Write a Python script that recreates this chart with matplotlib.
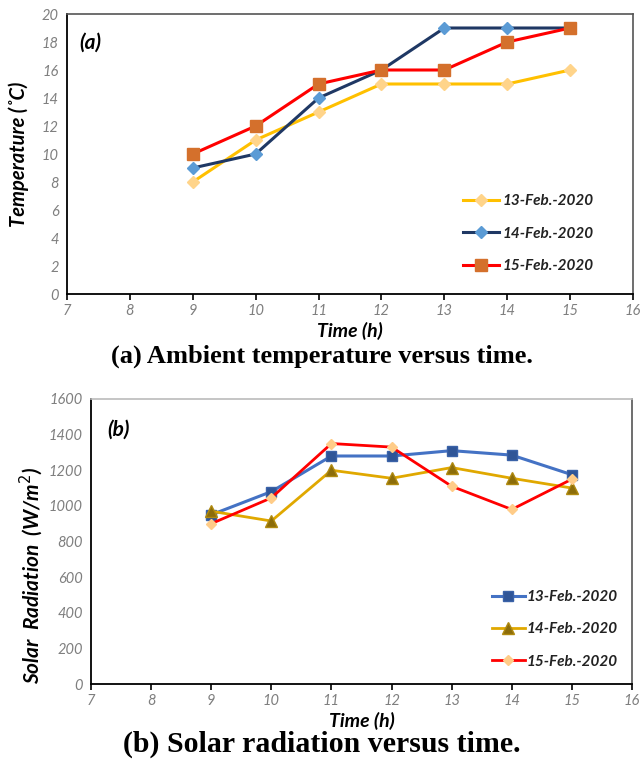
import matplotlib
matplotlib.use("Agg")
import matplotlib.pyplot as plt

hours = [9, 10, 11, 12, 13, 14, 15]
labels = ["13-Feb.-2020", "14-Feb.-2020", "15-Feb.-2020"]

temp_13 = [8, 11, 13, 15, 15, 15, 16]
temp_14 = [9, 10, 14, 16, 19, 19, 19]
temp_15 = [10, 12, 15, 16, 16, 18, 19]

rad_13 = [950, 1080, 1280, 1280, 1310, 1285, 1175]
rad_14 = [970, 915, 1200, 1155, 1215, 1155, 1100]
rad_15 = [900, 1045, 1350, 1330, 1110, 980, 1150]

xticks = [7, 8, 9, 10, 11, 12, 13, 14, 15, 16]
temp_ticks = list(range(0, 21, 2))
rad_ticks = list(range(0, 1601, 200))

TICKFONT = dict(family="Lato", style="italic", color="#7f7f7f", size=10.5)
LABFONT = dict(family="Lato", style="italic", weight="bold", color="black")

fig = plt.figure(figsize=(6.43, 7.60), dpi=100)

def style_axes(ax, yticks, ylim):
    ax.set_xlim(7, 16)
    ax.set_ylim(*ylim)
    ax.set_xticks(xticks)
    ax.set_yticks(yticks)
    ax.set_xticklabels([str(t) for t in xticks], **TICKFONT)
    ax.set_yticklabels([str(t) for t in yticks], **TICKFONT)
    ax.tick_params(axis="y", length=0, pad=6)
    ax.tick_params(axis="x", direction="out", length=4, width=1.2, pad=3, color="black")
    ax.spines["left"].set_color("black")
    ax.spines["bottom"].set_color("black")
    ax.spines["left"].set_linewidth(1.3)
    ax.spines["bottom"].set_linewidth(1.3)
    ax.spines["top"].set_color("#555555")
    ax.spines["right"].set_color("#555555")
    ax.spines["top"].set_linewidth(1.2)
    ax.spines["right"].set_linewidth(1.2)

# ---- Panel (a)
ax1 = fig.add_axes([67/643, 1-294/760, (633-67)/643, (294-14)/760])
ax1.plot(hours, temp_13, color="#FFC000", lw=2.2, marker="D", ms=6,
         mfc="#FFD48A", mec="#FFD48A", label=labels[0])
ax1.plot(hours, temp_14, color="#1F3864", lw=2.2, marker="D", ms=6,
         mfc="#5B9BD5", mec="#5B9BD5", label=labels[1])
ax1.plot(hours, temp_15, color="#FF0000", lw=2.2, marker="s", ms=8,
         mfc="#D4702C", mec="#D4702C", label=labels[2])
style_axes(ax1, temp_ticks, (0, 20))
ax1.set_xlabel("Time (h)", fontsize=14, labelpad=3, **LABFONT)
ax1.set_ylabel("Temperature (˚C)", fontsize=14.5, **LABFONT)
ax1.yaxis.set_label_coords(-0.068, 0.5)
ax1.text(0.021, 0.896, "(a)", transform=ax1.transAxes, fontsize=15, va="center", **LABFONT)
leg1 = ax1.legend(loc="lower left", bbox_to_anchor=(0.675, 0.026), frameon=False,
                  handlelength=2.4, handletextpad=0.2, labelspacing=1.2,
                  prop=dict(family="Lato", style="italic", weight="bold", size=11))
for t in leg1.get_texts():
    t.set_color("#222222")
fig.text(0.5, 1-356/760, "(a) Ambient temperature versus time.", ha="center", va="center",
         family="Liberation Serif", weight="bold", fontsize=19)

# ---- Panel (b)
ax2 = fig.add_axes([91/643, 1-684/760, (632-91)/643, (684-399)/760])
ax2.plot(hours, rad_13, color="#4472C4", lw=2.2, marker="s", ms=7,
         mfc="#2F5597", mec="#3A62A8", label=labels[0])
ax2.plot(hours, rad_14, color="#E0A800", lw=2.0, marker="^", ms=8,
         mfc="#8C6D0A", mec="#B08A10", label=labels[1])
ax2.plot(hours, rad_15, color="#FF0000", lw=2.0, marker="D", ms=5,
         mfc="#FFCC88", mec="#FFCC88", label=labels[2])
style_axes(ax2, rad_ticks, (0, 1600))
ax2.spines["top"].set_color("#BBBBBB")
ax2.set_xlabel("Time (h)", fontsize=14, labelpad=3, **LABFONT)
ax2.set_ylabel("Solar  Radiation  (W/m$^2$)", fontsize=15, **LABFONT)
ax2.yaxis.set_label_coords(-0.085, 0.38)
ax2.text(0.031, 0.891, "(b)", transform=ax2.transAxes, fontsize=15, va="center", **LABFONT)
leg2 = ax2.legend(loc="lower left", bbox_to_anchor=(0.715, 0.005), frameon=False,
                  handlelength=2.2, handletextpad=0.1, labelspacing=1.2,
                  prop=dict(family="Lato", style="italic", weight="bold", size=11))
for t in leg2.get_texts():
    t.set_color("#222222")
fig.text(0.5, 1-744/760, "(b) Solar radiation versus time.", ha="center", va="center",
         family="Liberation Serif", weight="bold", fontsize=21.5)

fig.savefig("out.png", dpi=100)
